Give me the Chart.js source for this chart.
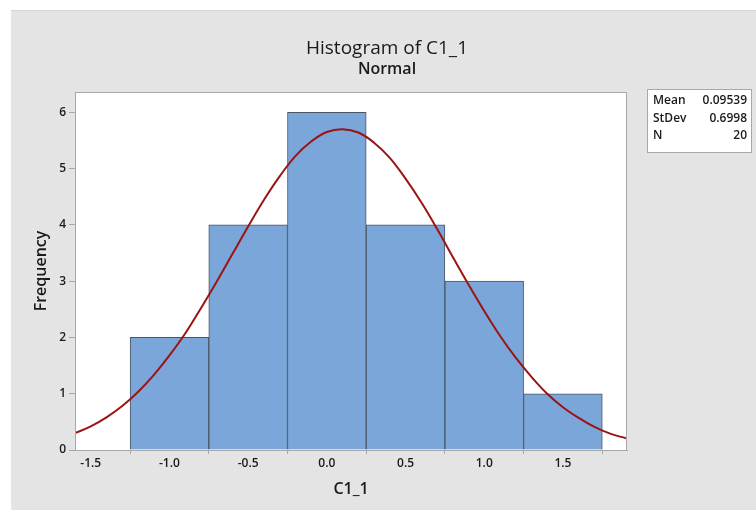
<!DOCTYPE html>
<html>
<head>
<meta charset="utf-8">
<script src="https://cdn.jsdelivr.net/npm/chart.js@4/dist/chart.umd.min.js"></script>
<style>
  html, body { margin: 0; padding: 0; background: #ffffff; }
  #wrap { width: 756px; height: 510px; }
</style>
</head>
<body>
<div id="wrap"><canvas id="hist" width="756" height="510"></canvas></div>
<script>
// --- data ---
const binStarts = [-1.25, -0.75, -0.25, 0.25, 0.75, 1.25];
const binEnds = [-0.75, -0.25, 0.25, 0.75, 1.25, 1.75];
const binCounts = [2, 4, 6, 4, 3, 1];

// fitted normal curve
const curveX = [-1.6, -1.5, -1.4, -1.3, -1.2, -1.1, -1.0, -0.9, -0.8, -0.7, -0.6, -0.5, -0.4, -0.3, -0.2, -0.1,
    0.0, 0.1, 0.2, 0.3, 0.4, 0.5, 0.6, 0.7, 0.8, 0.9, 1.0, 1.1, 1.2, 1.3, 1.4, 1.5, 1.6, 1.7, 1.8, 1.9];
const curveY = [0.30, 0.42, 0.58, 0.78, 1.03, 1.33, 1.68, 2.07, 2.52, 2.99, 3.48, 3.97, 4.44, 4.86, 5.22, 5.48,
    5.65, 5.70, 5.64, 5.46, 5.19, 4.82, 4.40, 3.93, 3.43, 2.94, 2.47, 2.03, 1.64, 1.30, 1.00, 0.76, 0.57, 0.41, 0.29, 0.21];

const xTicks = [-1.5, -1.0, -0.5, 0.0, 0.5, 1.0, 1.5];
const yTicks = [0, 1, 2, 3, 4, 5, 6];

const statLabels = ['Mean', 'StDev', 'N'];
const statValues = ['0.09539', '0.6998', '20'];

const FONT = '"Open Sans", "Noto Sans", sans-serif';

// --- 背景・枠・統計ボックス ---
const decorPlugin = {
    id: 'decor',
    beforeDraw(chart) {
        const ctx = chart.ctx;
        const a = chart.chartArea;
        ctx.save();
        ctx.fillStyle = '#ffffff';
        ctx.fillRect(0, 0, chart.width, chart.height);
        ctx.fillStyle = '#e4e4e4';
        ctx.fillRect(11, 10, chart.width - 11, chart.height - 10);
        ctx.fillStyle = '#d4d4d4';
        ctx.fillRect(11, 10, chart.width - 11, 1);
        ctx.fillStyle = '#ffffff';
        ctx.fillRect(a.left, a.top, a.right - a.left, a.bottom - a.top);
        ctx.restore();
    },
    afterDraw(chart) {
        const ctx = chart.ctx;
        const a = chart.chartArea;
        ctx.save();
        ctx.strokeStyle = '#a8a8a8';
        ctx.lineWidth = 1;
        ctx.strokeRect(a.left + 0.5, a.top + 0.5, a.right - a.left - 1, a.bottom - a.top);

        // stats box
        const bx = 647, by = 89, bw = 105, bh = 64;
        ctx.fillStyle = '#ffffff';
        ctx.fillRect(bx, by, bw, bh);
        ctx.strokeStyle = '#a8a8a8';
        ctx.strokeRect(bx + 0.5, by + 0.5, bw - 1, bh - 1);
        ctx.fillStyle = '#1a1a1a';
        ctx.font = '600 12px ' + FONT;
        ctx.textBaseline = 'middle';
        statLabels.forEach((lab, i) => {
            const y = by + 12 + i * 17.5;
            ctx.textAlign = 'left';
            ctx.fillText(lab, bx + 6, y);
            ctx.textAlign = 'right';
            ctx.fillText(statValues[i], bx + bw - 5, y);
        });
        ctx.restore();
    }
};

new Chart(document.getElementById('hist'), {
    data: {
        datasets: [
            {
                type: 'line',
                data: curveX.map((x, i) => ({ x: x, y: curveY[i] })),
                borderColor: '#9b1414',
                borderWidth: 2,
                pointRadius: 0,
                tension: 0.4,
                fill: false,
                order: 0
            },
            {
                type: 'bar',
                data: binStarts.map((s, i) => ({ x: (s + binEnds[i]) / 2, y: binCounts[i] })),
                backgroundColor: '#7ba6d9',
                borderColor: '#4a5663',
                borderWidth: 1,
                barPercentage: 1.0,
                categoryPercentage: 1.0,
                order: 1
            }
        ]
    },
    plugins: [decorPlugin],
    options: {
        responsive: false,
        animation: false,
        // title is centred on the grey panel, so pad left and use a blank right axis for the stats box room
        layout: { padding: { left: 18, right: 0, top: 0, bottom: 0 } },
        plugins: {
            legend: { display: false },
            tooltip: { enabled: false },
            title: {
                display: true,
                text: 'Histogram of C1_1',
                color: '#1a1a1a',
                font: { family: FONT, size: 19, weight: '500' },
                padding: { top: 37, bottom: 0 }
            },
            subtitle: {
                display: true,
                text: 'Normal',
                color: '#1a1a1a',
                font: { family: FONT, size: 16, weight: '600' },
                padding: { top: 0, bottom: 13 }
            }
        },
        scales: {
            x: {
                type: 'linear',
                offset: false,
                min: -1.6,
                max: 1.907,
                afterBuildTicks: s => { s.ticks = xTicks.map(v => ({ value: v })); },
                afterFit: s => { s.height = 60; },
                ticks: {
                    callback: v => v.toFixed(1),
                    color: '#1a1a1a',
                    font: { family: FONT, size: 12, weight: '600' },
                    padding: 2,
                    maxRotation: 0
                },
                grid: { drawOnChartArea: false, drawTicks: true, tickLength: 4, color: '#a8a8a8' },
                border: { display: true, color: '#a8a8a8' },
                title: {
                    display: true,
                    text: 'C1_1',
                    color: '#1a1a1a',
                    font: { family: FONT, size: 16, weight: '600' },
                    padding: { bottom: 11 }
                }
            },
            y: {
                min: 0,
                max: 6.36,
                afterBuildTicks: s => { s.ticks = yTicks.map(v => ({ value: v })); },
                afterFit: s => { s.width = 57; },
                ticks: {
                    color: '#1a1a1a',
                    font: { family: FONT, size: 12, weight: '600' },
                    padding: 3
                },
                grid: { drawOnChartArea: false, drawTicks: true, tickLength: 6, color: '#a8a8a8' },
                border: { display: true, color: '#a8a8a8' },
                title: {
                    display: true,
                    text: 'Frequency',
                    color: '#1a1a1a',
                    font: { family: FONT, size: 16, weight: '600' },
                    padding: { top: 14 }
                }
            },
            yRoom: {
                position: 'right',
                display: true,
                afterFit: s => { s.width = 129; },
                ticks: { display: false },
                grid: { display: false },
                border: { display: false }
            }
        }
    }
});
</script>
</body>
</html>
